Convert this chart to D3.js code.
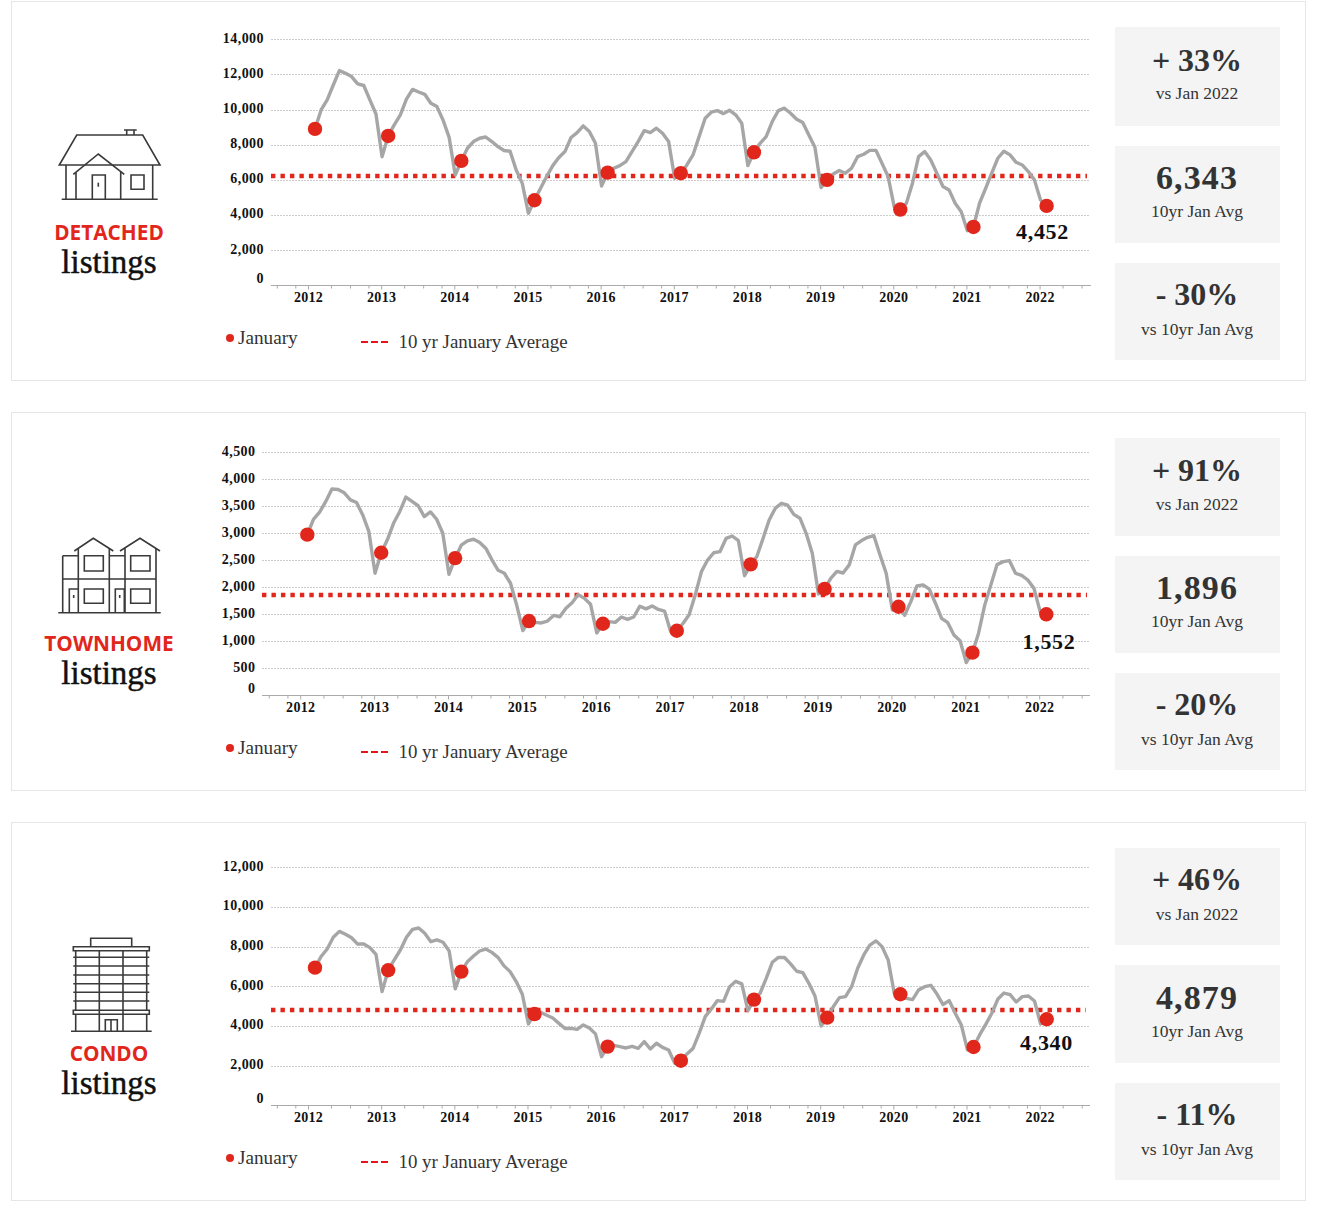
<!DOCTYPE html>
<html>
<head>
<meta charset="utf-8">
<script src="https://cdn.jsdelivr.net/npm/d3@7"></script>
<style>
html,body{margin:0;padding:0;background:#fff}
svg{display:block}
text{font-family:"Liberation Serif",serif}
.tick text{font-family:"Liberation Serif",serif}
</style>
</head>
<body>
<svg id="c" width="1318" height="1208"></svg>
<script>
const years = [2012,2013,2014,2015,2016,2017,2018,2019,2020,2021,2022];
const minorOffsetsMonths = [3.77,6.89,9.92];
const detachedTicks = [0,2000,4000,6000,8000,10000,12000,14000];
const townhomeTicks = [0,500,1000,1500,2000,2500,3000,3500,4000,4500];
const condoTicks = [0,2000,4000,6000,8000,10000,12000];

const detached = [8900,9980,10550,11400,12220,12070,11880,11460,11370,10550,9750,7320,
8500,9130,9700,10600,11150,11000,10870,10360,10170,9410,8420,6280,
7080,7800,8180,8370,8440,8180,7890,7670,7630,6560,5800,4100,
4840,5520,6190,6810,7270,7610,8410,8690,9070,8750,8080,5650,
6410,6660,6810,7040,7610,8180,8800,8690,8940,8650,8180,6090,
6380,6850,7420,8460,9510,9850,9940,9770,9960,9700,9220,6810,
7570,8080,8460,9320,9940,10080,9790,9450,9260,8560,7860,5560,
6000,6340,6530,6380,6660,7320,7460,7680,7680,6950,6190,4480,
4310,4670,5810,7320,7610,7130,6380,5620,5430,4670,4190,3110,
3320,4670,5520,6380,7230,7630,7420,7000,6850,6470,6000,4860,4520];
const townhome = [2975,3260,3390,3590,3820,3810,3750,3620,3570,3340,3030,2260,
2640,2880,3185,3400,3670,3590,3510,3310,3395,3260,3000,2240,
2540,2780,2860,2890,2830,2720,2505,2315,2260,2075,1670,1200,
1375,1350,1340,1375,1480,1455,1610,1715,1865,1795,1685,1155,
1325,1365,1350,1450,1405,1450,1650,1600,1655,1590,1560,1180,
1195,1330,1490,1860,2290,2505,2640,2660,2905,2950,2865,2215,
2425,2570,2905,3245,3465,3555,3520,3350,3280,3000,2630,1875,
1970,2165,2295,2265,2415,2785,2865,2925,2955,2600,2260,1580,
1640,1480,1735,2025,2045,1965,1705,1425,1345,1115,1010,605,
790,1150,1670,2045,2420,2475,2495,2260,2220,2135,1980,1550,1500];
const condo = [6940,7500,7880,8470,8770,8620,8450,8130,8130,7950,7610,5730,
6810,7330,7830,8470,8870,8940,8670,8250,8340,8220,7780,5870,
6740,7240,7530,7780,7880,7710,7460,7030,6740,6240,5600,4100,
4600,4690,4540,4400,4130,3870,3880,3830,4050,3900,3600,2450,
2960,3025,2960,2890,2975,2875,3210,2840,3130,2920,2790,2120,
2250,2590,2870,3630,4470,4860,5280,5240,5980,6250,6120,4770,
5330,5650,6400,7210,7460,7450,7130,6760,6690,6150,5510,4000,
4420,4970,5430,5480,5980,6910,7580,8080,8290,8000,7330,5650,
5600,5390,5330,5820,5980,6050,5610,5080,5280,4640,4050,2790,
2940,3550,4080,4640,5360,5660,5580,5210,5480,5510,5260,4100,4340];

const detachedAvgDrawn = 6205, townhomeAvgDrawn = 1858, condoAvgDrawn = 4807;
const detachedStats = [["+ 33%","vs Jan 2022"],["6,343","10yr Jan Avg"],["- 30%","vs 10yr Jan Avg"]];
const townhomeStats = [["+ 91%","vs Jan 2022"],["1,896","10yr Jan Avg"],["- 20%","vs 10yr Jan Avg"]];
const condoStats = [["+ 46%","vs Jan 2022"],["4,879","10yr Jan Avg"],["- 11%","vs 10yr Jan Avg"]];
const legendLabels = ["January","10 yr January Average"];

const RED="#e1271c", GREY="#a6a6a6", INK="#333";

const detachedIcon = [
 "M59.3 165L76.7 135H142.7L160 165Z","M124 130H136.7M126.7 130V135M134 130V135",
 "M66 165V199M152.7 165V199M61.7 199.3H157.7",
 "M73.3 174.3L98.3 154L124.3 174.3M76 171.5V199M120.7 171V199",
 "M92.3 199V175H105.3V199","M98.3 182.7V186.7","M131 175H144V189.3H131Z"];
const townhomeIcon = [
 "M58.3 612.7H160.7","M74.3 551L93.3 538.3L113.3 551","M120 551L140 538.3L160 551",
 "M62.7 555.7V612.7M78.3 548.3V612.7M109.3 548.3V612.7M125 548.3V612.7M156 548.3V612.7",
 "M62.7 555.7H78.3M109.3 555.7H125M62.7 579H156",
 "M84.3 555.7H103.3V571H84.3ZM130.7 555.7H150V571H130.7Z",
 "M84.3 589H103.3V603.3H84.3ZM130.7 589H150V603.3H130.7Z",
 "M69.3 612.7V589H78.3M115.3 612.7V589H124.3V612.7","M73.7 595V598M119.7 595V598"];
const condoIcon = [
 "M90.7 946.7V938.3H131.7V946.7","M73.3 946.7H149.3V950.7H73.3Z",
 "M75.7 950.7V1010.3M146.7 950.7V1010.3M99.3 950.7V1031M123 950.7V1031",
 "M73.3 957.3H149.3M73.3 966H149.3M73.3 975H149.3M73.3 983.7H149.3M73.3 992.3H149.3M73.3 1001H149.3",
 "M73.3 1010.3H149.3V1014.3H73.3Z","M75.7 1014.3V1031M146.7 1014.3V1031M71 1031.3H151.7",
 "M105.3 1031V1019.7H117.3V1031M111 1019.7V1031"];

const panels = [
 {name:"DETACHED",values:detached,ticks:detachedTicks,avg:detachedAvgDrawn,stats:detachedStats,icon:detachedIcon,
  top:1,h:379,yr:[285.3,39.3],yMax:14000,ax:[271,1091],xr:[315,1046.6],avgEnd:1087,label:"4,452",labelXY:[1042.5,232],labelRight:264,
  nameY:233,listY:262,boxes:[[27,99],[146,97],[263,97]],textY:[[61,94],[178,212],[295,330]],legY:[338,342]},
 {name:"TOWNHOME",values:townhome,ticks:townhomeTicks,avg:townhomeAvgDrawn,stats:townhomeStats,icon:townhomeIcon,
  top:412,h:378,yr:[695.3,452.3],yMax:4500,ax:[262,1090],xr:[307.3,1046.3],avgEnd:1087,label:"1,552",labelXY:[1049,642],labelRight:255.5,
  nameY:644,listY:673,boxes:[[438,98],[556,97],[673,97]],textY:[[471,505],[588,622],[705,740]],legY:[748,752]},
 {name:"CONDO",values:condo,ticks:condoTicks,avg:condoAvgDrawn,stats:condoStats,icon:condoIcon,
  top:822,h:378,yr:[1105.3,867.3],yMax:12000,ax:[271,1090],xr:[315,1046.7],avgEnd:1086,label:"4,340",labelXY:[1046.5,1043],labelRight:264,
  nameY:1054,listY:1083,boxes:[[848,97],[965,98],[1083,97]],textY:[[880,915],[998,1032],[1115,1150]],legY:[1158,1162]}
];

const svg = d3.select("#c");
const fmt = d3.format(",");

panels.forEach(p=>{
  const g = svg.append("g");
  g.append("rect").attr("x",11.5).attr("y",p.top+.5).attr("width",1294).attr("height",p.h)
    .attr("fill","#fff").attr("stroke","#e6e6e6");

  // icon + titles
  g.append("g").selectAll("path").data(p.icon).join("path").attr("d",d=>d)
    .attr("fill","none").attr("stroke","#3a3a3a").attr("stroke-width",1.6);
  g.append("text").text(p.name).attr("x",109).attr("y",p.nameY).attr("dy",".36em").attr("text-anchor","middle")
    .style("font-family","'Open Sans',sans-serif").style("font-weight",700).style("font-size","20.8px").attr("fill",RED);
  g.append("text").text("listings").attr("x",109).attr("y",p.listY).attr("dy",".32em").attr("text-anchor","middle")
    .style("font-size","33px").attr("fill","#111").attr("stroke","#111").attr("stroke-width",.45);

  // scales
  const y = d3.scaleLinear().domain([0,p.yMax]).range(p.yr);
  const x = d3.scaleLinear().domain([0,p.values.length-1]).range(p.xr);
  const base = p.yr[0]+.2;
  const tickIdx = years.map((yy,i)=>i*12-1.15);
  const minorIdx = [];
  [-12,...tickIdx.map((d,i)=>i*12)].forEach((o,i)=>minorOffsetsMonths.forEach(m=>{
     const v=o-1.15+m; if(x(v)>p.ax[0]+1 && x(v)<p.ax[1]) minorIdx.push(v);}));

  // gridlines
  g.append("g").selectAll("line").data(p.ticks.filter(d=>d>0)).join("line")
    .attr("x1",p.ax[0]).attr("x2",p.ax[1]-1).attr("y1",d=>Math.round(y(d))+.5).attr("y2",d=>Math.round(y(d))+.5)
    .attr("stroke","#cccccc").attr("stroke-dasharray","2 1");

  // y labels
  g.append("g").selectAll("text").data(p.ticks).join("text").text(fmt)
    .attr("x",p.labelRight).attr("y",d=>y(d)-(d===0?7:1)).attr("dy",".32em").attr("text-anchor","end")
    .style("font-weight",700).style("font-size","14px").style("letter-spacing",".45px").attr("fill","#111");

  // x axes
  const ax = g.append("g").attr("transform",`translate(0,${base})`)
    .call(d3.axisBottom(x).tickValues(tickIdx).tickFormat((d,i)=>years[i]).tickSize(4).tickPadding(3));
  ax.select(".domain").remove();
  ax.selectAll("line").attr("stroke","#aaa");
  ax.selectAll("text").style("font-weight",700).style("font-size","14px").style("letter-spacing",".3px").attr("fill","#111");
  const mx = g.append("g").attr("transform",`translate(0,${base})`)
    .call(d3.axisBottom(x).tickValues(minorIdx).tickFormat("").tickSize(3));
  mx.select(".domain").remove();
  mx.selectAll("line").attr("stroke","#aaa");
  g.append("line").attr("x1",p.ax[0]).attr("x2",p.ax[1]).attr("y1",base).attr("y2",base)
    .attr("stroke","#aaa").attr("stroke-width",1.2);

  // average dotted line
  const ay = Math.round(y(p.avg));
  g.append("line").attr("x1",p.ax[0]).attr("x2",p.avgEnd).attr("y1",ay).attr("y2",ay)
    .attr("stroke",RED).attr("stroke-width",4.4).attr("stroke-dasharray","4.4 5.07");

  // series
  g.append("path").datum(p.values)
    .attr("d",d3.line().x((d,i)=>x(i)).y(d=>y(d)))
    .attr("fill","none").attr("stroke",GREY).attr("stroke-width",3.4).attr("stroke-linejoin","round");
  const jans = p.values.map((v,i)=>[i,v]).filter(d=>d[0]%12===0);
  g.append("g").selectAll("circle").data(jans).join("circle")
    .attr("cx",d=>x(d[0])).attr("cy",d=>y(d[1])).attr("r",7.2).attr("fill",RED);

  g.append("text").text(p.label).attr("x",p.labelXY[0]).attr("y",p.labelXY[1]).attr("dy",".34em")
    .attr("text-anchor","middle").style("font-weight",700).style("font-size","22px").style("letter-spacing",".7px").attr("fill","#111");

  // legend
  g.append("circle").attr("cx",230).attr("cy",p.legY[0]).attr("r",4).attr("fill",RED);
  g.append("text").text(legendLabels[0]).attr("x",238).attr("y",p.legY[0]).attr("dy",".3em")
    .style("font-size","19.2px").attr("fill",INK);
  g.append("line").attr("x1",361).attr("x2",388).attr("y1",p.legY[1]).attr("y2",p.legY[1])
    .attr("stroke","#e8141c").attr("stroke-width",2).attr("stroke-dasharray","7 3");
  g.append("text").text(legendLabels[1]).attr("x",398.5).attr("y",p.legY[1]).attr("dy",".3em")
    .style("font-size","18.9px").attr("fill",INK);

  // stat boxes
  p.boxes.forEach((b,i)=>{
    const t = p.stats[i][0], isNum = t.includes(",");
    g.append("rect").attr("x",1115).attr("y",b[0]).attr("width",165).attr("height",b[1]).attr("fill","#f4f4f4");
    g.append("text").text(t).attr("x",1197).attr("y",p.textY[i][0]-.5).attr("dy",".34em")
      .attr("text-anchor","middle").style("font-weight",700).style("font-size",isNum?"34px":"32px")
      .style("letter-spacing",isNum?"1.1px":"0").attr("fill",INK);
    g.append("text").text(p.stats[i][1]).attr("x",1197).attr("y",p.textY[i][1]).attr("dy",".3em")
      .attr("text-anchor","middle").style("font-size","17.5px").attr("fill",INK);
  });
});
</script>
</body>
</html>
